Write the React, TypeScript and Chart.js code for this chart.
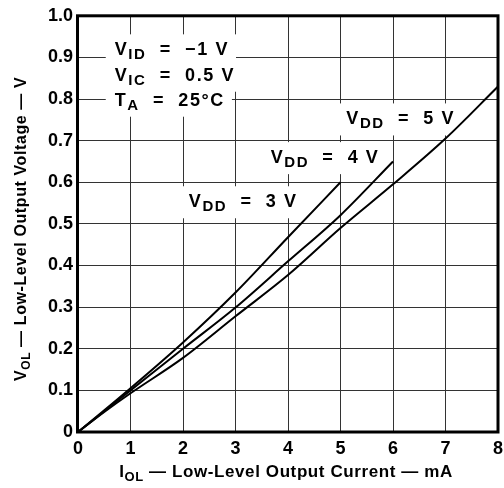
import React, { useEffect, useRef } from 'react';
import { Chart, registerables } from 'chart.js';

Chart.register(...registerables);

// ---- data ----
const xTickValues = [0, 1, 2, 3, 4, 5, 6, 7, 8];
const yTickValues = [0, 0.1, 0.2, 0.3, 0.4, 0.5, 0.6, 0.7, 0.8, 0.9, 1.0];

const iolVdd3 = [0, 0.5, 1, 2, 3, 4, 5];
const volVdd3 = [0, 0.052, 0.105, 0.215, 0.335, 0.468, 0.6];

const iolVdd4 = [0, 0.5, 1, 2, 3, 4, 5, 6];
const volVdd4 = [0, 0.05, 0.1, 0.2, 0.299, 0.41, 0.521, 0.65];

const iolVdd5 = [0, 0.5, 1, 2, 3, 4, 5, 6, 7, 8];
const volVdd5 = [0, 0.048, 0.093, 0.178, 0.278, 0.377, 0.49, 0.595, 0.705, 0.83];

const FONT = '"Liberation Sans", Arial, Helvetica, sans-serif';

type Seg = { t: string; sub?: boolean };

// annotation anchors (left edge, baseline) in data units
const NOTES: { x: number; y: number; segs: Seg[] }[] = [
  { x: 0.7, y: 0.905, segs: [{ t: 'V' }, { t: 'ID', sub: true }, { t: '  =  \u22121 V' }] },
  { x: 0.7, y: 0.844, segs: [{ t: 'V' }, { t: 'IC', sub: true }, { t: '  =  0.5 V' }] },
  { x: 0.7, y: 0.784, segs: [{ t: 'T' }, { t: 'A', sub: true }, { t: '  =  25\u00B0C' }] },
  { x: 5.11, y: 0.739, segs: [{ t: 'V' }, { t: 'DD', sub: true }, { t: '  =  5 V' }] },
  { x: 3.67, y: 0.646, segs: [{ t: 'V' }, { t: 'DD', sub: true }, { t: '  =  4 V' }] },
  { x: 2.11, y: 0.54, segs: [{ t: 'V' }, { t: 'DD', sub: true }, { t: '  =  3 V' }] },
];

const X_TITLE: Seg[] = [{ t: 'I' }, { t: 'OL', sub: true }, { t: ' \u2014 Low-Level Output Current \u2014 mA' }];
const Y_TITLE: Seg[] = [{ t: 'V' }, { t: 'OL', sub: true }, { t: ' \u2014 Low-Level Output Voltage \u2014 V' }];

function setFont(ctx: CanvasRenderingContext2D, size: number, spacing: number) {
  ctx.font = `bold ${size}px ${FONT}`;
  (ctx as any).letterSpacing = `${spacing}px`;
}

function richWidth(ctx: CanvasRenderingContext2D, segs: Seg[], size: number, subSize: number, spacing: number) {
  let w = 0;
  for (const s of segs) {
    setFont(ctx, s.sub ? subSize : size, spacing);
    w += ctx.measureText(s.t).width;
  }
  return w;
}

function drawRich(
  ctx: CanvasRenderingContext2D,
  segs: Seg[],
  x: number,
  y: number,
  size: number,
  subSize: number,
  drop: number,
  spacing: number
) {
  ctx.textAlign = 'left';
  ctx.textBaseline = 'alphabetic';
  ctx.fillStyle = '#000';
  let cx = x;
  for (const s of segs) {
    setFont(ctx, s.sub ? subSize : size, spacing);
    ctx.fillText(s.t, cx, s.sub ? y + drop : y);
    cx += ctx.measureText(s.t).width;
  }
}

const NOTE_SIZE = 18;
const NOTE_SUB = 15;
const NOTE_SPACING = 1.6;

const decorPlugin = {
  id: 'decor',
  beforeDatasetsDraw(chart: any) {
    const ctx: CanvasRenderingContext2D = chart.ctx;
    const xs = chart.scales.x;
    const ys = chart.scales.y;
    ctx.save();
    // white boxes behind annotations
    for (const n of NOTES) {
      const px = xs.getPixelForValue(n.x);
      const py = ys.getPixelForValue(n.y);
      const w = richWidth(ctx, n.segs, NOTE_SIZE, NOTE_SUB, NOTE_SPACING);
      ctx.fillStyle = '#fff';
      ctx.fillRect(px - 9, py - 21, w + 16, 32);
    }
    for (const n of NOTES) {
      const px = xs.getPixelForValue(n.x);
      const py = ys.getPixelForValue(n.y);
      drawRich(ctx, n.segs, px, py, NOTE_SIZE, NOTE_SUB, 4, NOTE_SPACING);
    }
    ctx.restore();
  },
  afterDraw(chart: any) {
    const ctx: CanvasRenderingContext2D = chart.ctx;
    const a = chart.chartArea;
    ctx.save();
    // heavy frame
    ctx.strokeStyle = '#000';
    ctx.lineWidth = 3;
    ctx.strokeRect(a.left - 0.5, a.top, a.right - a.left + 0.5, a.bottom - a.top);
    // x title
    const wx = richWidth(ctx, X_TITLE, 17, 13, 0.6);
    drawRich(ctx, X_TITLE, (a.left + a.right) / 2 - 2 - wx / 2, 477, 17, 13, 4, 0.6);
    // y title
    const wy = richWidth(ctx, Y_TITLE, 16, 12, 0.6);
    ctx.translate(26, (a.top + a.bottom) / 2 + 5);
    ctx.rotate(-Math.PI / 2);
    drawRich(ctx, Y_TITLE, -wy / 2, 0, 16, 12, 4, 0.6);
    ctx.restore();
  },
};

function toPoints(xs: number[], ys: number[]) {
  return xs.map((x, i) => ({ x, y: ys[i] }));
}

export default function App() {
  const ref = useRef<HTMLCanvasElement | null>(null);

  useEffect(() => {
    document.body.style.margin = '0';
    const canvas = ref.current!;
    const lineStyle = {
      borderColor: '#000',
      backgroundColor: '#000',
      borderWidth: 2,
      pointRadius: 0,
      fill: false,
      cubicInterpolationMode: 'monotone' as const,
    };
    const chart = new Chart(canvas, {
      type: 'line',
      data: {
        datasets: [
          { label: 'VDD = 3 V', data: toPoints(iolVdd3, volVdd3), ...lineStyle },
          { label: 'VDD = 4 V', data: toPoints(iolVdd4, volVdd4), ...lineStyle },
          { label: 'VDD = 5 V', data: toPoints(iolVdd5, volVdd5), ...lineStyle },
        ],
      },
      options: {
        responsive: false,
        animation: false,
        devicePixelRatio: 1,
        layout: { padding: { top: 14, right: 6, left: 0, bottom: 0 } },
        plugins: { legend: { display: false }, tooltip: { enabled: false } },
        scales: {
          x: {
            type: 'linear',
            min: 0,
            max: 8,
            afterBuildTicks: (s: any) => {
              s.ticks = xTickValues.map((v) => ({ value: v }));
            },
            afterFit: (s: any) => {
              s.height = 56;
              s.paddingRight = 6;
              s.paddingLeft = 6;
            },
            ticks: {
              color: '#000',
              padding: 6,
              maxRotation: 0,
              font: { family: FONT, size: 18, weight: 'bold' },
              callback: (v: any) => String(v),
            },
            grid: { color: '#333', lineWidth: 1, drawTicks: false },
            border: { display: false },
          },
          y: {
            type: 'linear',
            min: 0,
            max: 1,
            afterBuildTicks: (s: any) => {
              s.ticks = yTickValues.map((v) => ({ value: v }));
            },
            afterFit: (s: any) => {
              s.width = 78;
            },
            ticks: {
              color: '#000',
              padding: 5,
              font: { family: FONT, size: 18, weight: 'bold' },
              callback: (v: any) => (Number(v) === 0 ? '0' : Number(v).toFixed(1)),
            },
            grid: { color: '#333', lineWidth: 1, drawTicks: false },
            border: { display: false },
          },
        },
      },
      plugins: [decorPlugin],
    } as any);
    return () => chart.destroy();
  }, []);

  return <canvas ref={ref} width={504} height={488} style={{ display: 'block' }} />;
}
